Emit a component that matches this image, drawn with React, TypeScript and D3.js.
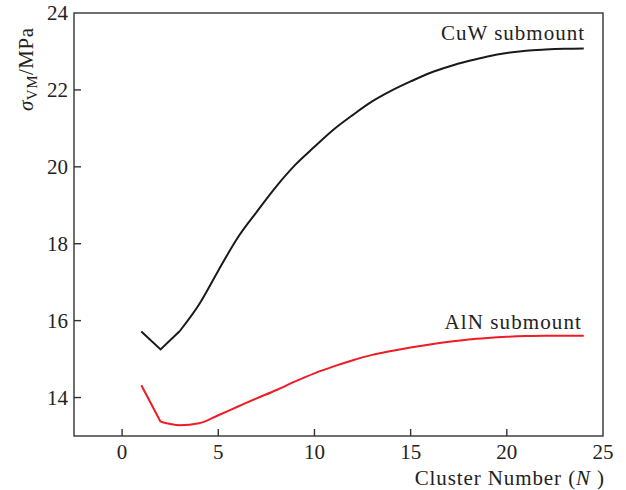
import React from "react";
import * as d3 from "d3";

const clusterN = [1, 2, 3, 4, 5, 6, 7, 8, 9, 10, 11, 12, 13, 14, 15, 16, 17, 18, 19, 20, 21, 22, 23, 24];
const cuwStress = [15.72, 15.25, 15.73, 16.42, 17.3, 18.15, 18.83, 19.48, 20.05, 20.52, 20.97, 21.35, 21.7, 21.98, 22.22, 22.44, 22.61, 22.75, 22.87, 22.96, 23.02, 23.05, 23.07, 23.08];
const alnStress = [14.32, 13.37, 13.28, 13.33, 13.54, 13.76, 13.98, 14.19, 14.42, 14.63, 14.81, 14.97, 15.11, 15.21, 15.3, 15.38, 15.45, 15.51, 15.55, 15.58, 15.6, 15.61, 15.61, 15.61];
const xTicks = [0, 5, 10, 15, 20, 25];
const yTicks = [14, 16, 18, 20, 22, 24];

const FONT = "'Liberation Serif', 'Times New Roman', 'DejaVu Serif', serif";

export default function App() {
  const W = 626, H = 490;
  const left = 74, right = 603, top = 13, bottom = 436;
  const x = d3.scaleLinear().domain([-2.5, 25]).range([left, right]);
  const y = d3.scaleLinear().domain([13, 24]).range([bottom, top]);
  const lin = d3
    .line<[number, number]>()
    .x((d) => x(d[0]))
    .y((d) => y(d[1]));
  const smooth = d3
    .line<[number, number]>()
    .x((d) => x(d[0]))
    .y((d) => y(d[1]))
    .curve(d3.curveMonotoneX);
  const cuw = clusterN.map((n, i) => [n, cuwStress[i]] as [number, number]);
  const aln = clusterN.map((n, i) => [n, alnStress[i]] as [number, number]);
  const axisColor = "#333";
  const black = "#1a1a1a";
  const red = "#ee1c25";
  return (
    <svg
      width={W}
      height={H}
      style={{ position: "absolute", left: 0, top: 0, background: "#fff" }}
      fontFamily={FONT}
    >
      <rect x={0} y={0} width={W} height={H} fill="#fff" />
      <path d={lin(cuw.slice(0, 3)) || ""} fill="none" stroke={black} strokeWidth={2} strokeLinejoin="miter" />
      <path d={smooth(cuw.slice(2)) || ""} fill="none" stroke={black} strokeWidth={2} />
      <path d={lin(aln.slice(0, 2)) || ""} fill="none" stroke={red} strokeWidth={2} />
      <path d={smooth(aln.slice(1)) || ""} fill="none" stroke={red} strokeWidth={2} />
      <rect
        x={left}
        y={top}
        width={right - left}
        height={bottom - top}
        fill="none"
        stroke={axisColor}
        strokeWidth={1.4}
      />
      {yTicks.map((t) => (
        <g key={"y" + t}>
          {t < 24 && (
            <line x1={left} x2={left + 7} y1={y(t)} y2={y(t)} stroke={axisColor} strokeWidth={1.4} />
          )}
          <text x={left - 6} y={y(t)} dy="0.35em" textAnchor="end" fontSize={21} fill="#222">
            {t}
          </text>
        </g>
      ))}
      {xTicks.map((t) => (
        <g key={"x" + t}>
          {t < 25 && (
            <line x1={x(t)} x2={x(t)} y1={bottom} y2={bottom - 7} stroke={axisColor} strokeWidth={1.4} />
          )}
          <text x={x(t)} y={459} textAnchor="middle" fontSize={21} fill="#222">
            {t}
          </text>
        </g>
      ))}
      <text x={605} y={485} textAnchor="end" fontSize={21} letterSpacing={0.9} fill="#222">
        Cluster Number (<tspan fontStyle="italic">N</tspan> )
      </text>
      <text transform="translate(33,111) rotate(-90)" fontSize={21} letterSpacing={0.5} fill="#222">
        <tspan fontStyle="italic">σ</tspan>
        <tspan fontSize={15} dy={4}>VM</tspan>
        <tspan dy={-4}>/MPa</tspan>
      </text>
      <text x={585} y={40} textAnchor="end" fontSize={21} letterSpacing={1} fill="#222">
        CuW submount
      </text>
      <text x={582} y={329} textAnchor="end" fontSize={21} letterSpacing={1.1} fill="#222">
        AlN submount
      </text>
    </svg>
  );
}
